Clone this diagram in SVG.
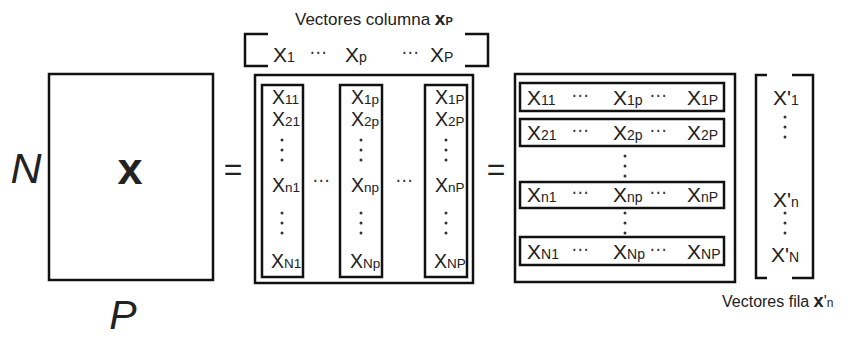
<svg xmlns="http://www.w3.org/2000/svg" width="848" height="339" viewBox="0 0 848 339">
<style>
.t{font-family:"Liberation Sans",Arial,sans-serif;fill:#222}
.x{font-size:21px}
.s{font-size:14px}
.c{font-size:19.5px}
.cs{font-size:13.5px}
.box{fill:none;stroke:#111;stroke-width:2.5}
.br{fill:none;stroke:#111;stroke-width:2.5}
.dh{font-family:"DejaVu Sans",sans-serif;font-size:17px;fill:#333;text-anchor:middle}
</style>
<defs>
<g id="vd" fill="#333">
<circle cx="0" cy="0" r="1.5"/>
<circle cx="0" cy="10" r="1.5"/>
<circle cx="0" cy="20" r="1.5"/>
</g>
</defs>
<rect width="848" height="339" fill="#fff"/>

<g id="matrixX">
<rect class="box" x="49" y="74" width="164" height="206"/>
<text class="t" x="130" y="184" font-size="45" font-weight="bold" text-anchor="middle">x</text>
<text class="t" x="26" y="183" font-size="43" font-style="italic" text-anchor="middle">N</text>
<text class="t" x="123" y="329" font-size="41" font-style="italic" text-anchor="middle">P</text>
</g>

<g id="eq1"><text class="t" x="233" y="180" font-size="32" text-anchor="middle">=</text></g>
<g id="eq2"><text class="t" x="496" y="180" font-size="32" text-anchor="middle">=</text></g>

<g id="colHeader">
<text class="t" x="295" y="25" font-size="17">Vectores columna <tspan font-weight="bold" font-size="19">x</tspan><tspan font-weight="bold" font-size="11">P</tspan></text>
<path class="br" d="M268,34 H245 V66 H268"/>
<path class="br" d="M465,34 H488 V66 H465"/>
<text class="t x" x="273" y="62">X<tspan class="s">1</tspan></text>
<text class="dh" x="318" y="58">⋯</text>
<text class="t x" x="345" y="62">X<tspan class="s">p</tspan></text>
<text class="dh" x="410" y="58">⋯</text>
<text class="t x" x="430" y="62">X<tspan class="s">P</tspan></text>
</g>

<g id="colMatrix">
<rect class="box" x="255" y="75" width="218" height="208"/>
<rect class="box" x="262" y="85" width="41" height="192"/>
<rect class="box" x="340" y="85" width="42" height="192"/>
<rect class="box" x="425" y="85" width="42" height="192"/>
<text class="t c" x="272" y="104">X<tspan class="cs">11</tspan></text>
<text class="t c" x="272" y="126">X<tspan class="cs">21</tspan></text>
<use href="#vd" x="282" y="140"/>
<text class="t c" x="272" y="192">X<tspan class="cs">n1</tspan></text>
<use href="#vd" x="282" y="213"/>
<text class="t c" x="271" y="268">X<tspan class="cs">N1</tspan></text>

<text class="t c" x="351" y="104">X<tspan class="cs">1p</tspan></text>
<text class="t c" x="351" y="126">X<tspan class="cs">2p</tspan></text>
<use href="#vd" x="361" y="140"/>
<text class="t c" x="351" y="192">X<tspan class="cs">np</tspan></text>
<use href="#vd" x="361" y="213"/>
<text class="t c" x="350" y="268">X<tspan class="cs">Np</tspan></text>

<text class="t c" x="435" y="104">X<tspan class="cs">1P</tspan></text>
<text class="t c" x="435" y="126">X<tspan class="cs">2P</tspan></text>
<use href="#vd" x="446" y="140"/>
<text class="t c" x="435" y="192">X<tspan class="cs">nP</tspan></text>
<use href="#vd" x="446" y="213"/>
<text class="t c" x="434" y="268">X<tspan class="cs">NP</tspan></text>

<text class="dh" x="321" y="186">⋯</text>
<text class="dh" x="404" y="186">⋯</text>
</g>

<g id="rowMatrix">
<rect class="box" x="515" y="74" width="220" height="208"/>
<rect class="box" x="520" y="83" width="204" height="28"/>
<rect class="box" x="520" y="119" width="204" height="27"/>
<rect class="box" x="520" y="182" width="204" height="26"/>
<rect class="box" x="520" y="237" width="204" height="28"/>

<text class="t x" x="527" y="105">X<tspan class="s">11</tspan></text>
<text class="dh" x="580" y="101">⋯</text>
<text class="t x" x="613" y="105">X<tspan class="s">1p</tspan></text>
<text class="dh" x="658" y="101">⋯</text>
<text class="t x" x="687" y="105">X<tspan class="s">1P</tspan></text>

<text class="t x" x="527" y="140">X<tspan class="s">21</tspan></text>
<text class="dh" x="580" y="136">⋯</text>
<text class="t x" x="613" y="140">X<tspan class="s">2p</tspan></text>
<text class="dh" x="658" y="136">⋯</text>
<text class="t x" x="687" y="140">X<tspan class="s">2P</tspan></text>

<text class="t x" x="527" y="202">X<tspan class="s">n1</tspan></text>
<text class="dh" x="580" y="198">⋯</text>
<text class="t x" x="613" y="202">X<tspan class="s">np</tspan></text>
<text class="dh" x="658" y="198">⋯</text>
<text class="t x" x="687" y="202">X<tspan class="s">nP</tspan></text>

<text class="t x" x="527" y="259">X<tspan class="s">N1</tspan></text>
<text class="dh" x="580" y="255">⋯</text>
<text class="t x" x="613" y="259">X<tspan class="s">Np</tspan></text>
<text class="dh" x="658" y="255">⋯</text>
<text class="t x" x="687" y="259">X<tspan class="s">NP</tspan></text>

<use href="#vd" x="625" y="156"/>
<use href="#vd" x="625" y="213"/>
</g>

<g id="rowVector">
<path class="br" d="M767,75 H756 V278 H767"/>
<path class="br" d="M792,75 H813 V278 H792"/>
<text class="t x" x="773" y="105">X'<tspan class="s">1</tspan></text>
<use href="#vd" x="785" y="117"/>
<text class="t x" x="773" y="207">X'<tspan class="s">n</tspan></text>
<use href="#vd" x="785" y="213"/>
<text class="t x" x="771" y="262">X'<tspan class="s">N</tspan></text>
<text class="t" x="722" y="307" font-size="16">Vectores fila <tspan font-weight="bold" font-size="18">x</tspan>'<tspan font-size="12">n</tspan></text>
</g>
</svg>
